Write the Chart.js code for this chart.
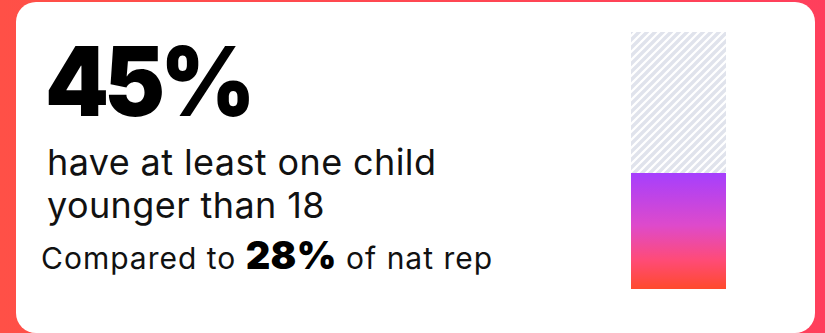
<!DOCTYPE html>
<html>
<head>
<meta charset="utf-8">
<script src="https://cdn.jsdelivr.net/npm/chart.js@4/dist/chart.umd.min.js"></script>
<style>
  html, body { margin: 0; padding: 0; }
  body {
    width: 825px; height: 333px; overflow: hidden; position: relative;
    background: linear-gradient(90deg, #ff5047 0%, #ff3f5c 100%);
  }
  .card {
    position: absolute; left: 16px; top: 2px; width: 799px; height: 331px;
    background: #fff; border-radius: 20px;
  }
  .big {
    position: absolute; left: 45px; top: 33px;
    font-family: Inter, sans-serif; font-weight: 900; font-size: 96px;
    letter-spacing: -5px; line-height: 1; color: #000;
    transform: scaleX(0.95); transform-origin: left top;
  }
  .desc {
    position: absolute; left: 47px; top: 141px;
    font-family: Inter, sans-serif; font-weight: 400; font-size: 36px; line-height: 43px; color: #111;
    letter-spacing: 0.4px; white-space: nowrap;
  }
  .compare {
    position: absolute; left: 41px; top: 232px;
    font-family: Inter, sans-serif; font-weight: 400; font-size: 30px; color: #111;
    letter-spacing: 1px; white-space: nowrap;
  }
  .compare b { font-family: Inter, sans-serif; font-weight: 900; font-size: 38px; color: #000; letter-spacing: 0.3px; }
  .chartBox { position: absolute; left: 631px; top: 32px; width: 95px; height: 257px; }
</style>
</head>
<body>
<div class="card"></div>
<div class="big" id="bigValue"></div>
<div class="desc" id="desc"></div>
<div class="compare" id="compare"></div>
<div class="chartBox"><canvas id="bar"></canvas></div>
<script>
const labels = ["Has child under 18"];
const shareValues = [45];
const natRepValues = [28];
const fullValues = [100];
const descLines = ["have at least one child", "younger than 18"];

document.getElementById("bigValue").textContent = shareValues[0] + "%";
document.getElementById("desc").innerHTML = descLines.join("<br>");
document.getElementById("compare").innerHTML =
  "Compared to <b>" + natRepValues[0] + "%</b> of nat rep";

// diagonal hatch for the empty part
function makeHatch() {
  const c = document.createElement("canvas");
  c.width = 8; c.height = 8;
  const g = c.getContext("2d");
  g.fillStyle = "#ffffff";
  g.fillRect(0, 0, 8, 8);
  g.strokeStyle = "#e0e3ec";
  g.lineWidth = 3.4;
  g.beginPath();
  g.moveTo(-2, 10); g.lineTo(10, -2);
  g.moveTo(-2, 2); g.lineTo(2, -2);
  g.moveTo(6, 10); g.lineTo(10, 6);
  g.stroke();
  return g.createPattern(c, "repeat");
}

function barGradient(ctx) {
  const chart = ctx.chart;
  if (!chart.chartArea) return "#c545f0";
  const y = chart.scales.y;
  const top = y.getPixelForValue(shareValues[0]);
  const bottom = y.getPixelForValue(0);
  const grad = chart.ctx.createLinearGradient(0, top, 0, bottom);
  grad.addColorStop(0, "#a63ffd");
  grad.addColorStop(0.45, "#de4acb");
  grad.addColorStop(0.75, "#ff4b77");
  grad.addColorStop(1, "#ff4a2c");
  return grad;
}

new Chart(document.getElementById("bar"), {
  type: "bar",
  data: {
    labels,
    datasets: [
      { data: shareValues, backgroundColor: barGradient, order: 0, grouped: false },
      { data: fullValues, backgroundColor: makeHatch(), order: 1, grouped: false }
    ]
  },
  options: {
    responsive: true,
    maintainAspectRatio: false,
    animation: false,
    layout: { padding: 0 },
    datasets: { bar: { barPercentage: 1, categoryPercentage: 1, borderWidth: 0 } },
    scales: {
      x: { display: false },
      y: { display: false, min: 0, max: 100 }
    },
    plugins: { legend: { display: false }, tooltip: { enabled: false } }
  }
});
</script>
</body>
</html>
